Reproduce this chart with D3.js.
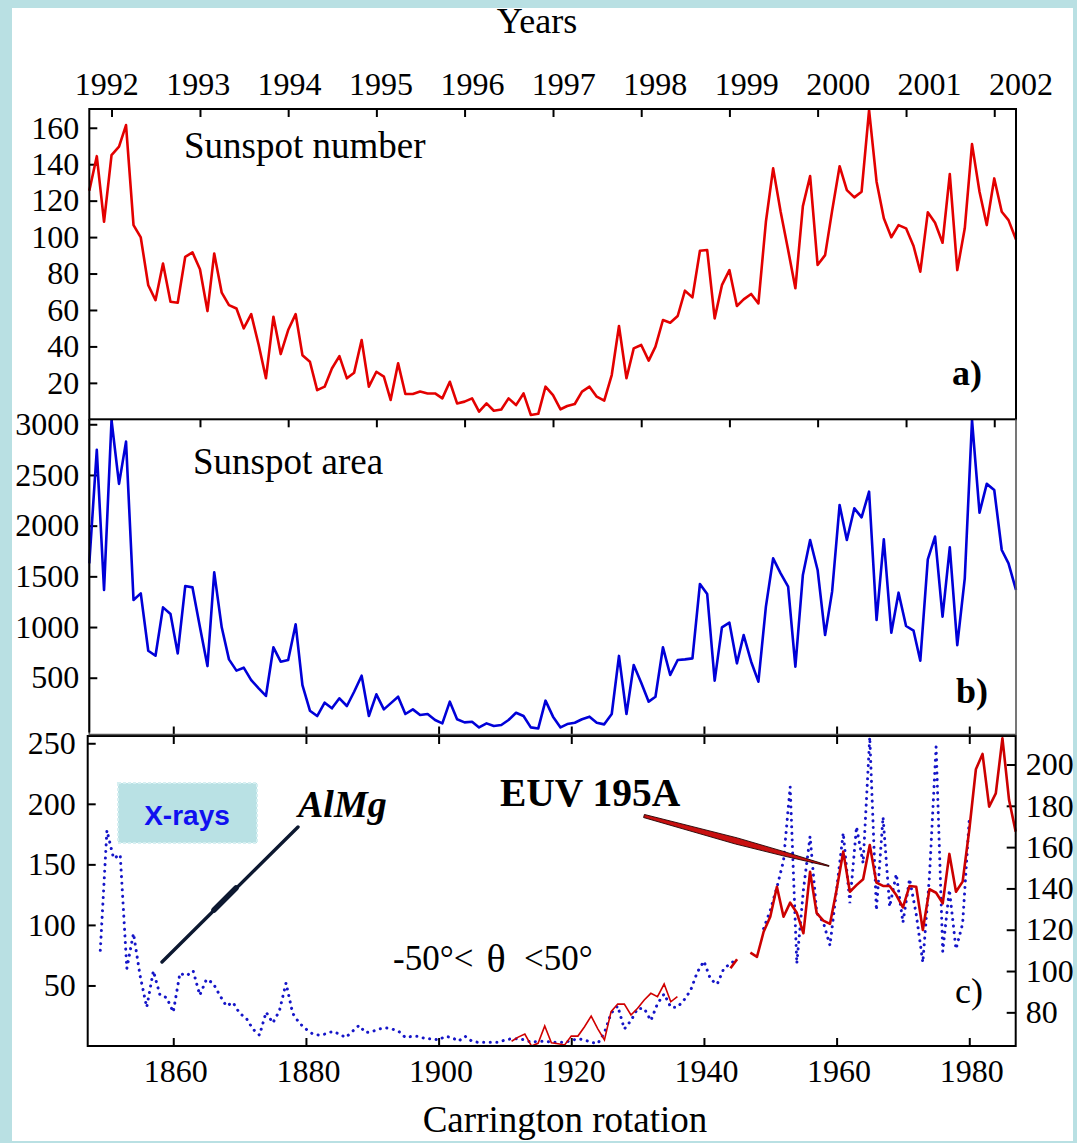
<!DOCTYPE html>
<html>
<head>
<meta charset="utf-8">
<script src="https://cdn.jsdelivr.net/npm/d3@7"></script>
<style>
  html, body { margin: 0; padding: 0; background: #b9e0e3; }
  svg { display: block; }
</style>
</head>
<body>
<svg id="chart" width="1077" height="1143"></svg>
<script>
// ---- monthly series (first month: October 1991) ----
const firstMonth = { year: 1991, month: 9 };
const sunspotNumber = [125.4,144.4,108.4,145,149.6,161.5,106.6,99.8,73.6,65.4,85.5,64.5,64,89.2,91.6,82.3,59.4,91,69.5,62.7,
  60.8,49.9,57.7,40.8,22.5,56.3,35.8,49,57.7,35.2,31.6,16,17.9,27.9,34.7,22.5,25.6,43.5,17.9,26.1,
  23.4,10.6,30.7,13.9,13.9,15.2,14.2,14.2,11.5,20.6,8.7,9.7,11.5,4.2,8.7,4.7,5.4,11.5,7.8,14.2,
  2.4,3,17.9,13.3,5.5,7.3,8.4,15.2,17.9,12.4,10.2,24.3,51.2,22.5,38.9,40.8,32.2,39.9,54.5,53,
  56.7,70.6,66.9,92.5,92.9,55.4,73.6,81.9,62.2,65.8,68.8,63.6,108.4,137.7,113.9,92.9,71.9,117,133.5,84.7,
  90.1,114.4,138.9,125.8,121.8,124.9,169.7,130.4,110.3,99.9,106.6,104.8,95.1,81,113.6,107.9,96.9,134.6,81.9,104.8,
  151,124.9,106.6,132.2,113.9,109.3,98.7];
const sunspotArea = [1628,2747,1366,3040,2412,2829,1267,1332,766,717,1194,1128,740,1404,1391,997,615,1539,997,681,
  570,599,477,395,320,800,658,675,1027,428,175,122,254,198,297,221,362,520,122,336,
  188,247,313,142,188,132,142,83,50,264,90,60,66,10,50,24,34,83,155,122,
  10,0,274,116,10,43,56,90,116,56,40,142,715,142,626,451,264,313,800,527,
  675,681,691,1425,1326,471,997,1043,642,921,658,461,1201,1678,1530,1398,609,1514,1859,1563,
  921,1349,2204,1859,2171,2082,2335,1069,1865,944,1339,1010,964,668,1668,1892,1102,1786,822,1480,
  3040,2128,2412,2352,1760,1628,1366];

// ---- per-rotation series ----
const xrayFirstRotation = 1849;
const xrayAlMg = [79,178,155,158,64,93,58,32,62,42,40,28,60,58,62,42,55,52,42,33,
  36,27,23,14,9,28,19,29,52,27,19,14,10,9,10,12,10,7,12,17,
  11,12,14,15,14,12,7,8,8,6,6,5,8,7,4,8,4,3,3,3,
  3,5,6,6,5,3,4,4,3,3,3,4.5,6,5,3,2,11,27,33,14,
  21,31,31,21,35,43,32,32,38,46,61,70,55,51,64,68,72,null,null,null,
  97,112,131,153,214,68,129,173,110,102,83,129,176,118,181,151,255,112,189,115,
  142,102,138,109,69,140,247,78,129,80,101,187];
const euvFirstRotation = 1911;
const euv195 = [66,68,69.5,63.7,65,73.4,65.3,64.8,64.2,68.5,68.5,73,78.2,72,66.6,80.3,84,84,78.7,82,
  86,89.2,87.6,93.7,85.1,87.6,null,null,null,null,null,null,null,101.3,105.7,null,
  108.9,106.9,119,126.3,140.8,126.3,133.1,128.2,118.3,148.1,128,124.4,122.8,139.3,157.8,138.4,141.6,144.4,161,142.8,
  141.2,141.2,136.8,130.8,141.2,140.8,119.9,139.6,137.9,132.8,156.7,138.4,143.3,168.3,197.7,205.1,179.6,186,212.7,182.8,
  167.5];

// ---- tick labels ----
const yearTicks = [1992,1993,1994,1995,1996,1997,1998,1999,2000,2001,2002];
const rotationTicks = [1860,1880,1900,1920,1940,1960,1980];
const numberTicks = [20,40,60,80,100,120,140,160];
const areaTicks = [500,1000,1500,2000,2500,3000];
const xrayTicks = [50,100,150,200,250];
const euvTicks = [80,100,120,140,160,180,200];

const SERIF = "'Liberation Serif', 'Times New Roman', Tinos, 'DejaVu Serif', 'Noto Serif', serif";
const SANS = "'Liberation Sans', Arial, Arimo, 'DejaVu Sans', sans-serif";

const svg = d3.select("#chart").style("font-family", SERIF);

// white sheet inside the pale border
svg.append("rect").attr("x", 12).attr("y", 8).attr("width", 1061).attr("height", 1133).attr("fill", "#fff");

// ---- scales ----
const months = sunspotNumber.map((_, i) => new Date(Date.UTC(firstMonth.year, firstMonth.month + i, 1)));
const xTime = d3.scaleUtc().domain([months[0], months[months.length - 1]]).range([89.3, 1016]);
const yearLabelX = d3.scaleLinear().domain([1992, 2002]).range([106.7, 1021]);
const xRot = d3.scaleLinear().domain([1847.1, 1987]).range([87.7, 1015.7]);

const panelA = { x0: 89.3, x1: 1016, y0: 109, y1: 419.3 };
const panelB = { x0: 89.3, x1: 1016, y0: 419.3, y1: 734.5 };
const panelC = { x0: 87.7, x1: 1015.7, y0: 736, y1: 1046 };

const yA = d3.scaleLinear().domain([0, 170.3]).range([panelA.y1, panelA.y0]);
const yB = d3.scaleLinear().domain([-60, 3049]).range([panelB.y1, panelB.y0]);
const yX = d3.scaleLinear().domain([0, 256]).range([panelC.y1, panelC.y0]);
const yE = d3.scaleLinear().domain([63.7, 213.8]).range([panelC.y1, panelC.y0]);

const tickFont = 32;
const intFmt = d3.format("d");

function serifText(sel, size) {
  return sel.style("font-family", SERIF).style("font-size", size + "px").style("fill", "#000");
}

function styleAxis(g) {
  g.attr("font-family", null).attr("font-size", null);
  g.select(".domain").remove();
  g.selectAll(".tick line").attr("stroke", "#000").attr("stroke-width", 2);
  serifText(g.selectAll(".tick text"), tickFont);
}

// ---- year ticks on top of panels a and b ----
const yearDates = yearTicks.map(y => new Date(Date.UTC(y, 0, 1)));
[panelA.y0, panelB.y0].forEach(y => {
  svg.append("g").attr("transform", `translate(0,${y})`)
    .call(d3.axisTop(xTime).tickValues(yearDates).tickSize(-8).tickFormat(""))
    .call(styleAxis);
});
serifText(svg.append("g").selectAll("text").data(yearTicks).join("text")
  .attr("x", d => yearLabelX(d)).attr("y", 95)
  .attr("text-anchor", "middle").text(d => d), tickFont);
serifText(svg.append("text").attr("x", 537).attr("y", 33).attr("text-anchor", "middle").text("Years"), 36);

// ---- left / right value axes ----
svg.append("g").attr("transform", `translate(${panelA.x0},0)`)
  .call(d3.axisLeft(yA).tickValues(numberTicks).tickSize(-8).tickPadding(10).tickFormat(intFmt)).call(styleAxis);
svg.append("g").attr("transform", `translate(${panelB.x0},0)`)
  .call(d3.axisLeft(yB).tickValues(areaTicks).tickSize(-8).tickPadding(10).tickFormat(intFmt)).call(styleAxis);
svg.append("g").attr("transform", `translate(${panelC.x0},0)`)
  .call(d3.axisLeft(yX).tickValues(xrayTicks).tickSize(-8).tickPadding(12).tickFormat(intFmt)).call(styleAxis);
svg.append("g").attr("transform", `translate(${panelC.x1},0)`)
  .call(d3.axisRight(yE).tickValues(euvTicks).tickSize(-9).tickPadding(10).tickFormat(intFmt)).call(styleAxis);

// ---- rotation ticks ----
svg.append("g").attr("transform", `translate(0,${panelB.y1})`)
  .call(d3.axisBottom(xRot).tickValues(rotationTicks).tickSize(-8).tickFormat("")).call(styleAxis);
svg.append("g").attr("transform", `translate(0,${panelC.y0})`)
  .call(d3.axisTop(xRot).tickValues(rotationTicks).tickSize(-8).tickFormat("")).call(styleAxis);
svg.append("g").attr("transform", `translate(0,${panelC.y1})`)
  .call(d3.axisBottom(xRot).tickValues(rotationTicks).tickSize(-8).tickPadding(13).tickFormat(intFmt))
  .call(styleAxis)
  .call(g => g.selectAll(".tick text").attr("dx", 2));
serifText(svg.append("text").attr("x", 565).attr("y", 1132).attr("text-anchor", "middle")
  .text("Carrington rotation"), 37);

// ---- series ----
const lineA = d3.line().x((d, i) => xTime(months[i])).y(d => yA(d));
svg.append("path").datum(sunspotNumber).attr("d", lineA)
  .attr("fill", "none").attr("stroke", "#e30000").attr("stroke-width", 2.6).attr("stroke-linejoin", "round");

const lineB = d3.line().x((d, i) => xTime(months[i])).y(d => yB(d));
svg.append("path").datum(sunspotArea).attr("d", lineB)
  .attr("fill", "none").attr("stroke", "#0000d8").attr("stroke-width", 2.6).attr("stroke-linejoin", "round");

const xrayPts = xrayAlMg.map((v, i) => ({ r: xrayFirstRotation + i, v }));
svg.append("path").datum(xrayPts)
  .attr("d", d3.line().defined(d => d.v !== null).x(d => xRot(d.r)).y(d => yX(d.v)))
  .attr("fill", "none").attr("stroke", "#1515c8").attr("stroke-width", 3)
  .attr("stroke-linecap", "round").attr("stroke-dasharray", "0.1 6.5");

const euvPts = euv195.map((v, i) => ({ r: euvFirstRotation + i, v }));
const lineE = d3.line().defined(d => d.v !== null).x(d => xRot(d.r)).y(d => yE(d.v));
svg.append("path").datum(euvPts.filter(d => d.r <= 1940))
  .attr("d", lineE).attr("fill", "none").attr("stroke", "#d00000").attr("stroke-width", 1.6);
svg.append("path").datum(euvPts.filter(d => d.r > 1940))
  .attr("d", lineE).attr("fill", "none").attr("stroke", "#cc0000").attr("stroke-width", 2.6)
  .attr("stroke-linejoin", "round");

// ---- panel frames ----
[panelA, panelC].forEach(p => {
  svg.append("rect").attr("x", p.x0).attr("y", p.y0).attr("width", p.x1 - p.x0).attr("height", p.y1 - p.y0)
    .attr("fill", "none").attr("stroke", "#000").attr("stroke-width", 2);
});
svg.append("path")
  .attr("d", `M${panelB.x0},${panelB.y0}V${panelB.y1}H${panelB.x1}V${panelB.y0}`)
  .attr("fill", "none").attr("stroke", "#555").attr("stroke-width", 1.6);
svg.append("line").attr("x1", panelB.x0).attr("x2", panelB.x0).attr("y1", panelB.y0).attr("y2", panelB.y1 - 2)
  .attr("stroke", "#000").attr("stroke-width", 2);

// ---- panel captions ----
serifText(svg.append("text").attr("x", 184).attr("y", 158).text("Sunspot number"), 37);
serifText(svg.append("text").attr("x", 193).attr("y", 474).text("Sunspot area"), 37);
serifText(svg.append("text").attr("x", 952).attr("y", 385).style("font-weight", "bold").text("a)"), 36);
serifText(svg.append("text").attr("x", 956).attr("y", 703).style("font-weight", "bold").text("b)"), 36);
serifText(svg.append("text").attr("x", 955).attr("y", 1003).text("c)"), 36);

// X-rays tag
svg.append("rect").attr("x", 118).attr("y", 783).attr("width", 139).attr("height", 60)
  .attr("fill", "#b9e1e4").attr("stroke", "#d6eff1").attr("stroke-width", 2).attr("stroke-dasharray", "3 2");
svg.append("text").attr("x", 187).attr("y", 825).attr("text-anchor", "middle")
  .style("font-family", SANS).style("font-size", "28px").style("font-weight", "bold")
  .style("fill", "#1010f0").text("X-rays");

// AlMg label and pointer
serifText(svg.append("text").attr("x", 298).attr("y", 817)
  .style("font-weight", "bold").style("font-style", "italic").text("AlMg"), 38);
svg.append("line").attr("x1", 298).attr("y1", 827).attr("x2", 162).attr("y2", 962)
  .attr("stroke", "#0c1830").attr("stroke-width", 3.4).attr("stroke-linecap", "round");
svg.append("line").attr("x1", 236).attr("y1", 888).attr("x2", 214).attr("y2", 910)
  .attr("stroke", "#0c1830").attr("stroke-width", 5.5).attr("stroke-linecap", "round");

// EUV label and wedge pointer
serifText(svg.append("text").attr("x", 500).attr("y", 806).style("font-weight", "bold").text("EUV 195A"), 39.5);
(function () {
  const p0 = [644, 816], p1 = [829, 866];
  const dx = p1[0] - p0[0], dy = p1[1] - p0[1], L = Math.hypot(dx, dy);
  const ux = dx / L, uy = dy / L, nx = -uy, ny = ux;
  const prof = [[0, 1.6], [0.5, 3.2], [0.75, 2.2], [1, 0.4]];
  const top = prof.map(([t, w]) => [p0[0] + dx * t + nx * w, p0[1] + dy * t + ny * w]);
  const bot = prof.map(([t, w]) => [p0[0] + dx * t - nx * w, p0[1] + dy * t - ny * w]).reverse();
  svg.append("path").attr("d", "M" + top.concat(bot).map(p => p.join(",")).join("L") + "Z")
    .attr("fill", "#c81010").attr("stroke", "#220000").attr("stroke-width", 0.9);
})();

// latitude band label
serifText(svg.append("text").attr("x", 393).attr("y", 970).text("-50°<"), 35);
serifText(svg.append("text").attr("x", 496).attr("y", 972).attr("text-anchor", "middle").text("θ"), 40);
serifText(svg.append("text").attr("x", 524).attr("y", 970).text("<50°"), 35);

// pale border drawn over everything at the edges
const edge = "#b9e0e3";
svg.append("rect").attr("x", 0).attr("y", 0).attr("width", 1077).attr("height", 8).attr("fill", edge);
svg.append("rect").attr("x", 0).attr("y", 0).attr("width", 12).attr("height", 1143).attr("fill", edge);
svg.append("rect").attr("x", 1073).attr("y", 0).attr("width", 4).attr("height", 1143).attr("fill", edge);
svg.append("rect").attr("x", 0).attr("y", 1141).attr("width", 1077).attr("height", 2).attr("fill", edge);
</script>
</body>
</html>
